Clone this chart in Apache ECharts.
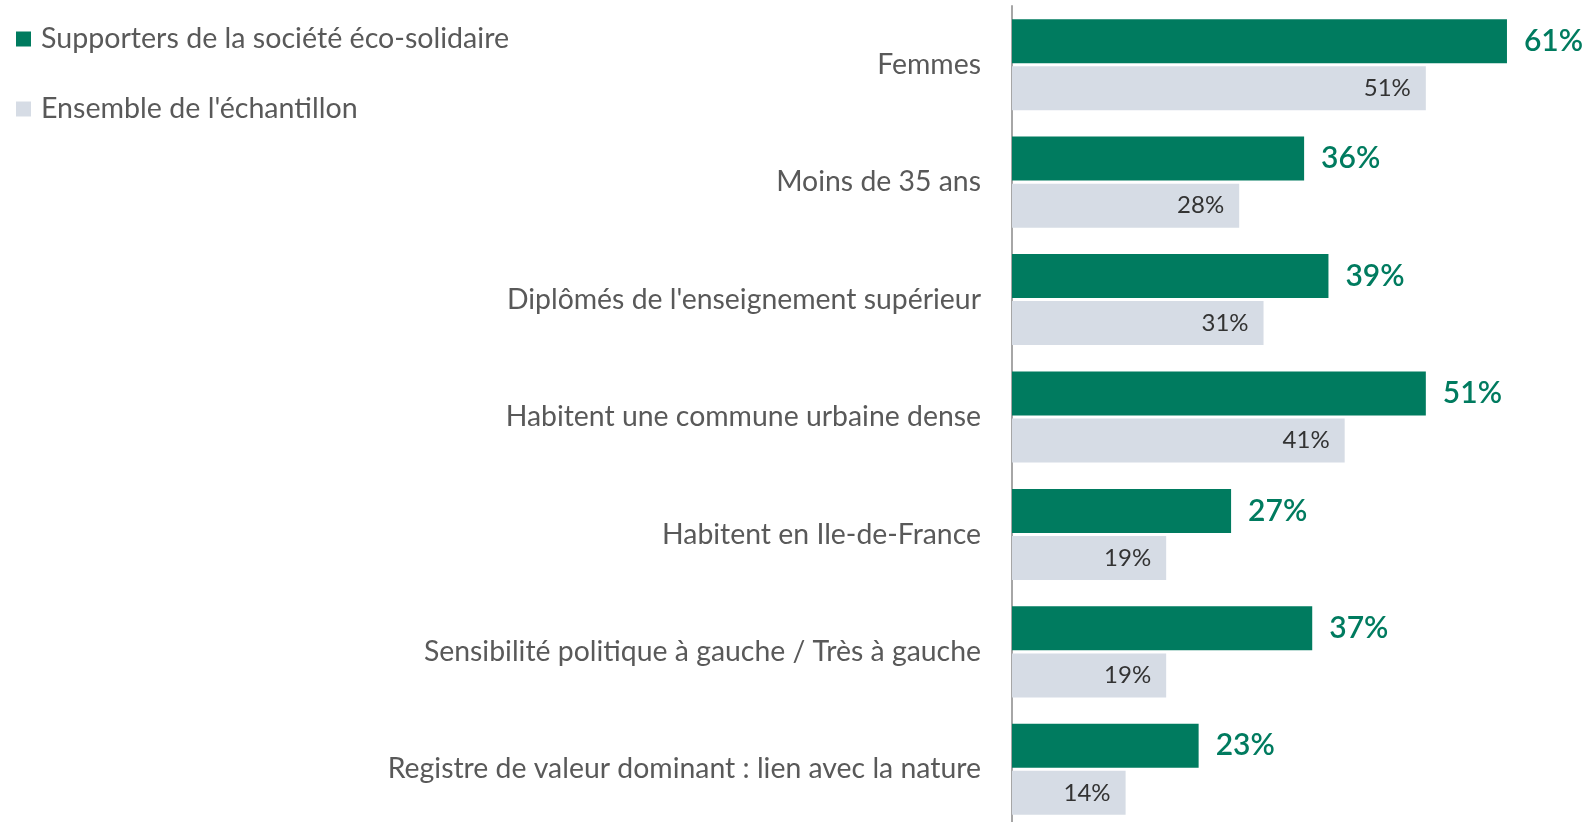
<!DOCTYPE html>
<html>
<head>
<meta charset="utf-8">
<script src="https://cdn.jsdelivr.net/npm/echarts@6/dist/echarts.min.js"></script>
<style>
  html, body { margin: 0; padding: 0; background: #fff; }
  #chart { width: 1586px; height: 822px; }
</style>
</head>
<body>
<div id="chart"></div>
<script>
// données
const categories = [
  "Femmes",
  "Moins de 35 ans",
  "Diplômés de l'enseignement supérieur",
  "Habitent une commune urbaine dense",
  "Habitent en Ile-de-France",
  "Sensibilité politique à gauche / Très à gauche",
  "Registre de valeur dominant : lien avec la nature"
]
const supporters = [61, 36, 39, 51, 27, 37, 23]
const ensemble = [51, 28, 31, 41, 19, 19, 14]
const seriesNames = ["Supporters de la société éco-solidaire", "Ensemble de l'échantillon"]

const green = "#007B5F"
const grey = "#D6DCE5"
const font = "Lato"

const chart = echarts.init(document.getElementById("chart"))

const option = {
  animation: false,
  textStyle: { fontFamily: font },
  legend: {
    orient: "vertical",
    left: 11,
    top: 19,
    itemWidth: 15,
    itemHeight: 15,
    itemGap: 40,
    icon: "rect",
    data: seriesNames,
    textStyle: {
      fontFamily: font,
      fontSize: 28.6,
      color: "#595959",
      lineHeight: 30,
      padding: [0, 0, 0, 5]
    }
  },
  grid: {
    left: 1012,
    top: 6,
    width: 568,
    height: 822,
    outerBoundsMode: "none"
  },
  xAxis: {
    type: "value",
    min: 0,
    max: 70,
    show: false
  },
  yAxis: {
    type: "category",
    inverse: true,
    data: categories,
    axisLine: { show: true, lineStyle: { color: "#A6A6A6", width: 2 } },
    axisTick: { show: false },
    axisLabel: {
      fontFamily: font,
      fontSize: 28.4,
      color: "#595959",
      margin: 31
    }
  },
  series: [
    {
      name: seriesNames[0],
      type: "bar",
      data: supporters,
      barWidth: 44,
      barGap: "7%",
      itemStyle: { color: green },
      label: {
        show: true,
        position: "right",
        distance: 17,
        formatter: "{c}%",
        fontFamily: font,
        fontSize: 30,
        fontWeight: 600,
        color: green
      }
    },
    {
      name: seriesNames[1],
      type: "bar",
      data: ensemble,
      barWidth: 44,
      itemStyle: { color: grey },
      label: {
        show: true,
        position: "insideRight",
        distance: 15,
        formatter: "{c}%",
        fontFamily: font,
        fontSize: 24,
        color: "#333333"
      }
    }
  ]
}

chart.setOption(option)
</script>
</body>
</html>
